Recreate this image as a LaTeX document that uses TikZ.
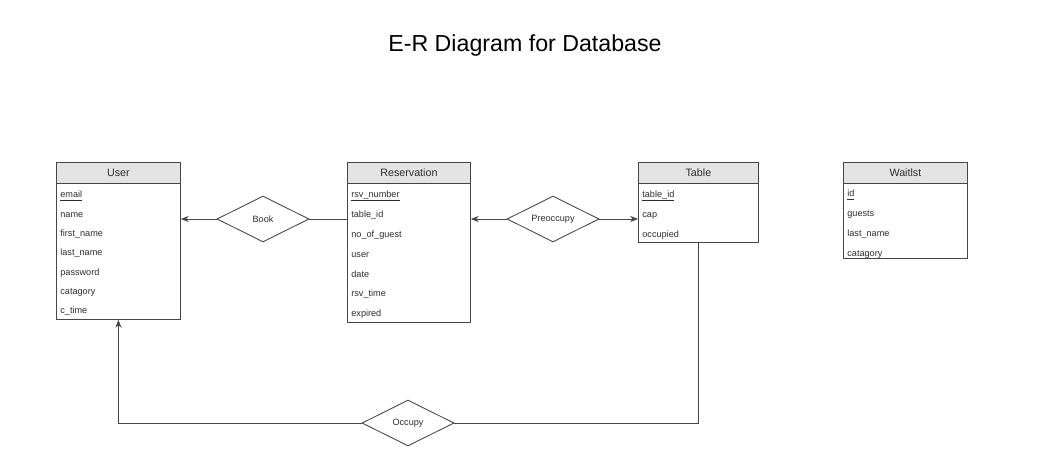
\documentclass[tikz,border=0pt]{standalone}
\usepackage{fontspec}
\setmainfont{Liberation Sans}
\usepackage{tikz}
\usetikzlibrary{shapes.geometric,arrows.meta,positioning}
\definecolor{headcolor}{RGB}{228, 228, 228}
\definecolor{linecolor}{RGB}{70, 70, 70}
\definecolor{textcolor}{RGB}{45, 45, 45}
\tikzset{
    enthead/.style={draw=linecolor, fill=headcolor, anchor=north west, inner sep=0pt,
        minimum height=0.42cm, font=\fontsize{6.1}{7}\selectfont, text=textcolor, line width=0.5pt},
    entbody/.style={draw=linecolor, fill=white, anchor=north west, inner sep=0pt, line width=0.5pt},
    attr/.style={anchor=west, inner sep=0pt, text height=0.75em, text depth=0.3em,
        font=\fontsize{5.2}{6}\selectfont, text=textcolor},
    rel/.style={draw=linecolor, diamond, aspect=2, inner sep=0pt, minimum width=1.84cm,
        minimum height=0.92cm, font=\fontsize{5.2}{6}\selectfont, text=textcolor, line width=0.5pt},
    link/.style={draw=linecolor, line width=0.5pt},
    tip/.style={link, -{Stealth[length=4.5pt, width=3.5pt]}}
}
\newcommand{\keyattr}[1]{\underline{\smash{#1}}}

\begin{document}
\begin{tikzpicture}[x=0.02cm, y=-0.02cm]
    \useasboundingbox (0,0) rectangle (1050,466);

    % Title
    \node[font=\fontsize{13.2}{15}\selectfont, text=black] (title) at (525,46) {E-R Diagram for Database};

    % User
    \node[enthead, minimum width=2.48cm] (userhd) at (56,162) {User};
    \node[entbody, minimum width=2.48cm, minimum height=2.72cm] (user) at (56,183) {};
    \foreach \t [count=\i from 0] in {\keyattr{email}, name, first\_name, last\_name, password, catagory, c\_time}
        \node[attr] (user-\i) at (60,194+19.3*\i) {\t};

    % Reservation
    \node[enthead, minimum width=2.46cm] (resvhd) at (347,162) {Reservation};
    \node[entbody, minimum width=2.46cm, minimum height=2.78cm] (resv) at (347,183) {};
    \foreach \t [count=\i from 0] in {\keyattr{rsv\_number}, table\_id, no\_of\_guest, user, date, rsv\_time, expired}
        \node[attr] (resv-\i) at (351,194+19.8*\i) {\t};

    % Table
    \node[enthead, minimum width=2.4cm] (tablehd) at (638,162) {Table};
    \node[entbody, minimum width=2.4cm, minimum height=1.18cm] (table) at (638,183) {};
    \foreach \t [count=\i from 0] in {\keyattr{table\_id}, cap, occupied}
        \node[attr] (table-\i) at (642,194+19.6*\i) {\t};

    % Waitlst
    \node[enthead, minimum width=2.48cm] (waithd) at (843,162) {Waitlst};
    \node[entbody, minimum width=2.48cm, minimum height=1.5cm] (wait) at (843,183) {};
    \foreach \t [count=\i from 0] in {\keyattr{id}, guests, last\_name, catagory}
        \node[attr] (wait-\i) at (847,193+20*\i) {\t};

    % Relationships
    \node[rel] (book) at (263,219) {Book};
    \node[rel] (preo) at (553,219) {Preoccupy};
    \node[rel] (occ) at (408,423) {Occupy};

    % Connectors
    \draw[tip] (book.west) -- (book.west -| user.east);
    \draw[link] (book.east) -- (book.east -| resv.west);
    \draw[tip] (preo.west) -- (preo.west -| resv.east);
    \draw[tip] (preo.east) -- (preo.east -| table.west);
    \draw[tip] (occ.west) -| (user.south);
    \draw[link] (occ.east) -| (table.south);
\end{tikzpicture}
\end{document}
